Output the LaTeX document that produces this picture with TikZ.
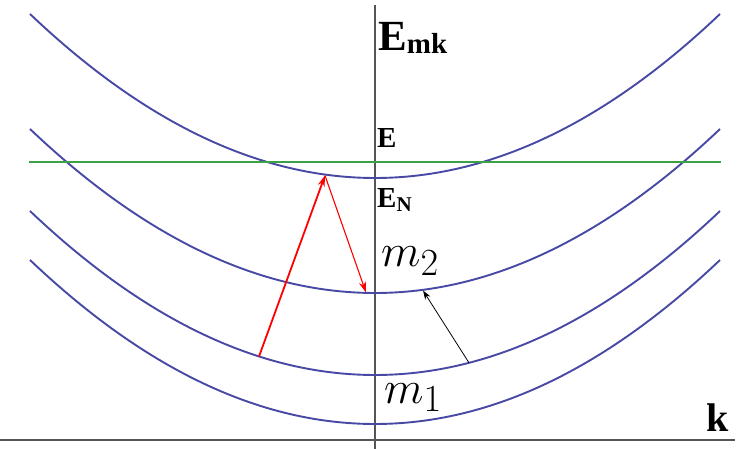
\documentclass[tikz,border=0pt]{standalone}
\usepackage[no-math]{fontspec}
\setmainfont{Liberation Serif}
\usetikzlibrary{arrows.meta}
\definecolor{bandblue}{RGB}{72,72,165}
\definecolor{levelgreen}{RGB}{60,160,70}
\definecolor{axisgray}{RGB}{85,85,85}
\begin{document}
\begin{tikzpicture}[x=1pt,y=-1pt,
  band/.style={bandblue, line width=1.9pt},
  axisline/.style={axisgray, line width=1.1pt},
  level/.style={levelgreen, line width=1.8pt},
  redthick/.style={red, line width=1.8pt, -{Stealth[length=11pt,width=7pt]}},
  redthin/.style={red, line width=1.1pt, -{Stealth[length=11pt,width=7pt]}},
  blackarrow/.style={black, line width=0.8pt, -{Stealth[length=9pt,width=6pt]}},
  lbl/.style={inner sep=0pt, anchor=base west}]
\useasboundingbox (0,0) rectangle (742,449);
\fill[white] (0,0) rectangle (742,449);
% axes
\coordinate (ytop) at (375,5);
\coordinate (ybot) at (375,449);
\coordinate (xl) at (0,440);
\coordinate (xr) at (735,440);
\draw[axisline] (ytop) -- (ybot);
\draw[axisline] (xl) -- (xr);
% bands
\foreach \v in {178,293,375,424}
  \draw[band] plot[domain=-345:345, samples=120] ({375+\x},{\v-164*(\x/345)^2});
% Fermi level
\coordinate (gl) at (29,162);
\coordinate (gr) at (721,162);
\draw[level] (gl) -- (gr);
% transitions
\coordinate (r1) at (259,356.5);
\coordinate (r2) at (325,175.5);
\coordinate (r3) at (366,292.5);
\coordinate (b1) at (469,362.8);
\coordinate (b2) at (423,290.5);
\draw[redthick] (r1) -- (r2);
\draw[redthin] (r2) -- (r3);
\draw[blackarrow] (b1) -- (b2);
% labels
\node[lbl] (emk) at (378,51) {\fontsize{43}{46}\selectfont\bfseries E\raisebox{-3pt}{\fontsize{29}{32}\selectfont mk}};
\node[lbl] (e) at (377,148) {\fontsize{29}{32}\selectfont\bfseries E};
\node[lbl] (en) at (377,208) {\fontsize{29}{32}\selectfont\bfseries E\raisebox{-4pt}{\fontsize{21}{24}\selectfont N}};
\node[lbl] (m2) at (381,267) {\scalebox{1.85}{\Huge$m_2$}};
\node[lbl] (m1) at (384,403) {\scalebox{1.85}{\Huge$m_1$}};
\node[lbl] (k) at (706,431) {\fontsize{40}{44}\selectfont\bfseries k};
\end{tikzpicture}
\end{document}
